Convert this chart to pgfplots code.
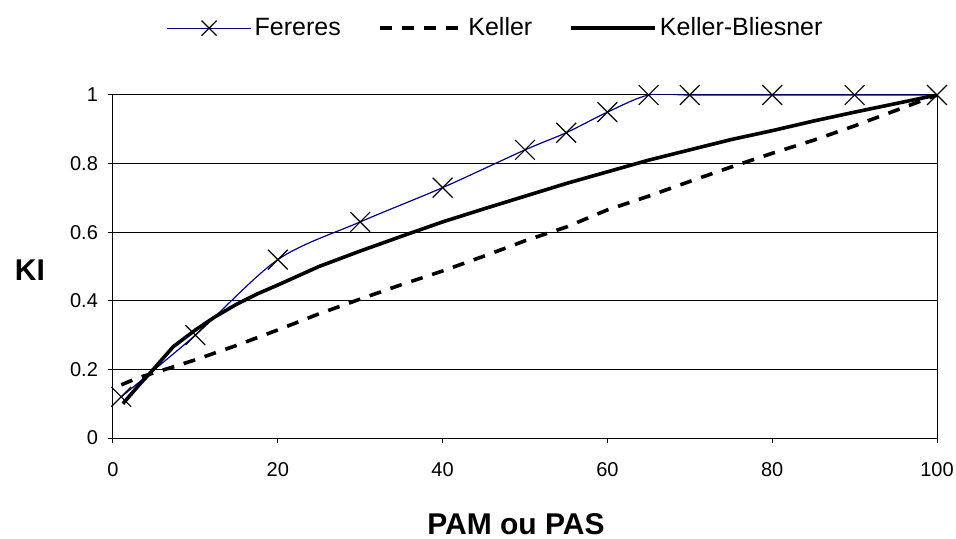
\documentclass[border=0pt]{standalone}
\usepackage{fontspec}
\setmainfont{Liberation Sans}
\usepackage{pgfplots}
\usepackage{pgfplotstable}
\pgfplotsset{compat=1.18}
\definecolor{navy}{RGB}{0,0,128}

% KI en fonction de PAM ou PAS
\pgfplotstableread{
x    y
1    0.12
10   0.30
20   0.52
30   0.63
40   0.73
50   0.84
55   0.89
60   0.95
65   1.00
70   1.00
80   1.00
90   1.00
100  1.00
}\fereres

\pgfplotstableread{
x    y
1    0.155
3    0.175
5    0.19
7    0.205
10   0.228
15   0.27
20   0.315
25   0.362
30   0.405
35   0.447
40   0.487
45   0.53
50   0.575
55   0.615
60   0.665
65   0.705
70   0.748
75   0.79
80   0.83
85   0.868
90   0.91
95   0.955
100  1.00
}\keller

\pgfplotstableread{
x    y
1.2  0.10
3    0.15
5    0.203
7.3  0.266
10   0.315
12.5 0.355
15   0.39
17.5 0.42
20   0.446
25   0.50
30   0.545
35   0.588
40   0.63
45   0.668
50   0.705
55   0.742
60   0.776
65   0.81
70   0.84
75   0.87
80   0.896
85   0.924
90   0.95
95   0.975
100  1.00
}\kellerbliesner

\begin{document}
\begin{tikzpicture}
\begin{axis}[
    scale only axis,
    width=412pt, height=171.5pt,
    xmin=0, xmax=100, ymin=0, ymax=1,
    xtick={0,20,40,60,80,100},
    ytick={0,0.2,0.4,0.6,0.8,1},
    /pgf/number format/assume math mode=true,
    ticklabel style={font=\fontsize{10}{12}\selectfont},
    xticklabel style={yshift=-6pt},
    yticklabel style={xshift=-1.5pt},
    tick align=outside, major tick length=2.5pt,
    xtick pos=bottom, ytick pos=left,
    tick style={black, line width=0.5pt},
    axis line style={line width=0.5pt},
    ymajorgrids, grid style={black, line width=0.5pt},
    xlabel={PAM ou PAS}, ylabel={KI},
    label style={font=\bfseries\fontsize{15}{18}\selectfont},
    xlabel style={at={(axis description cs:0.489,0)}, anchor=center, yshift=-43pt},
    ylabel style={rotate=-90, at={(axis description cs:0,0.49)}, anchor=center, xshift=-41.5pt},
    legend columns=3,
    legend style={at={(axis description cs:0.4648,1.195)}, anchor=center,
        draw=none, fill=none, font=\fontsize{12.5}{15}\selectfont,
        nodes={inner sep=1.5pt},
        /tikz/every even column/.append style={column sep=17pt}},
    legend image code/.code={\draw[mark repeat=2, mark phase=2, #1]
        plot coordinates {(0pt,0pt) (21pt,0pt) (42pt,0pt)};},
]
\addplot[navy, line width=0.6pt, smooth, mark=x, mark size=7pt,
    mark options={draw=black, solid, line width=0.6pt},
    legend image post style={mark size=5.3pt}] table {\fereres};
\addlegendentry{Fereres}
\addplot[black, line width=1.8pt, dash pattern=on 6pt off 5pt] table {\keller};
\addlegendentry{Keller}
\addplot[black, line width=1.8pt] table {\kellerbliesner};
\addlegendentry{Keller-Bliesner}
\end{axis}
\pgfresetboundingbox
\path[use as bounding box] ([shift={(-56.5pt,-50.5pt)}]current axis.south west)
    rectangle ([shift={(421.5pt,219pt)}]current axis.south west);
\end{tikzpicture}
\end{document}
